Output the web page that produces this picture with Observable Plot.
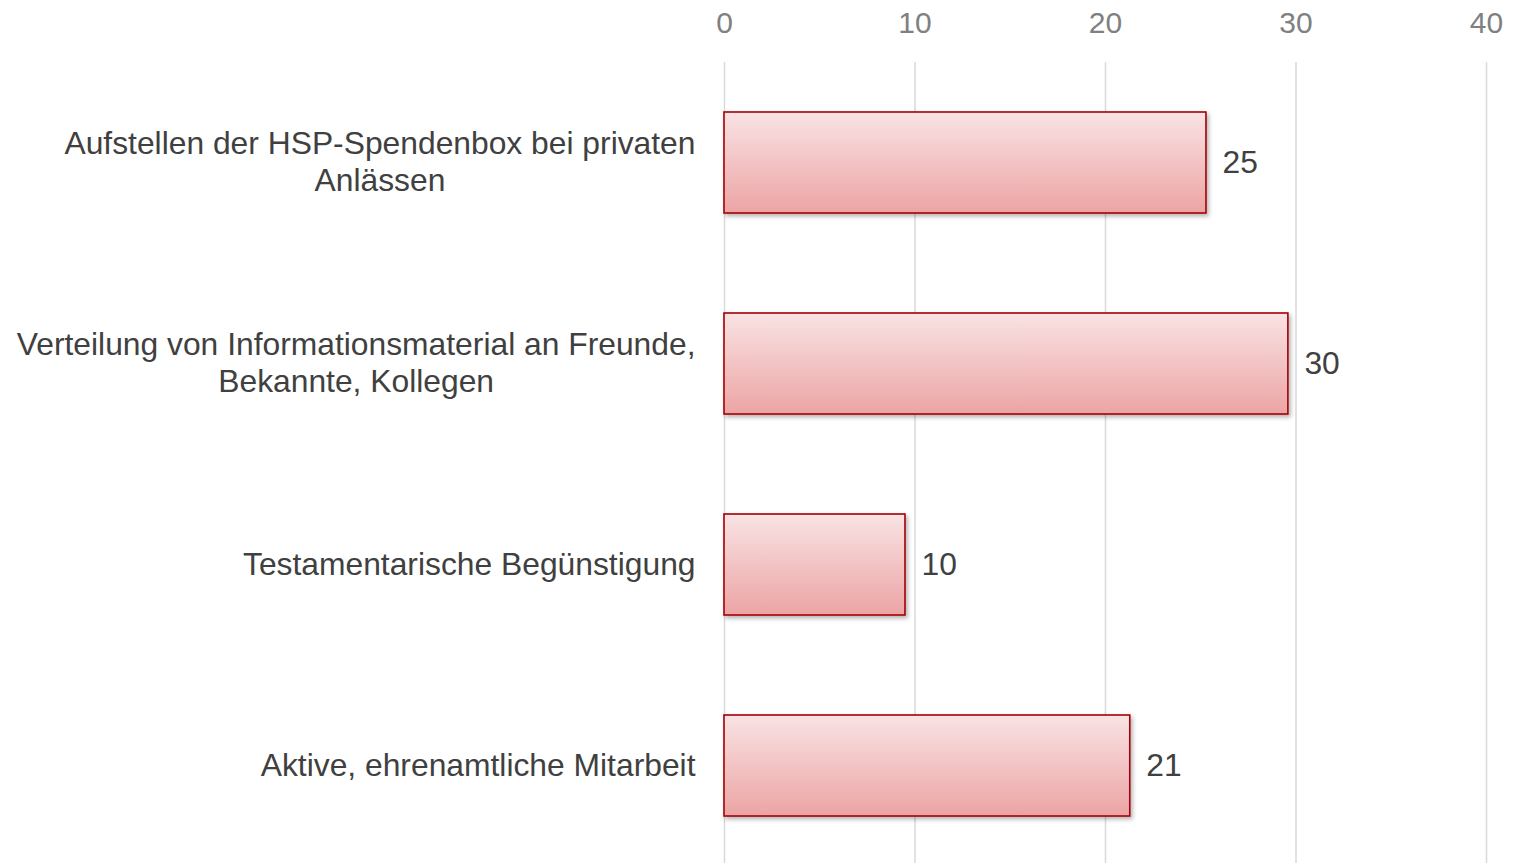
<!DOCTYPE html>
<html>
<head>
<meta charset="utf-8">
<script src="https://cdn.jsdelivr.net/npm/d3@7"></script>
<script src="https://cdn.jsdelivr.net/npm/@observablehq/plot@0.6"></script>
<style>
  html, body { margin: 0; padding: 0; background: #fff; }
  #chart svg { display: block; }
</style>
</head>
<body>
<div id="chart"></div>
<script>
const categories = [
  "Aufstellen der HSP-Spendenbox bei privaten\nAnlässen",
  "Verteilung von Informationsmaterial an Freunde,\nBekannte, Kollegen",
  "Testamentarische Begünstigung",
  "Aktive, ehrenamtliche Mitarbeit"
];
const values = [25.3, 29.6, 9.5, 21.3];
const valueLabels = ["25", "30", "10", "21"];
const xTicks = [0, 10, 20, 30, 40];

const data = categories.map((c, i) => ({category: c, value: values[i], label: valueLabels[i]}));

const defsMark = () => {
  const defs = d3.create("svg:defs");
  const grad = defs.append("linearGradient")
    .attr("id", "barGrad").attr("x1", 0).attr("y1", 0).attr("x2", 0).attr("y2", 1);
  grad.append("stop").attr("offset", "0%").attr("stop-color", "#f9e3e4");
  grad.append("stop").attr("offset", "100%").attr("stop-color", "#eca4a4");
  const f = defs.append("filter").attr("id", "shadow")
    .attr("x", "-5%").attr("y", "-10%").attr("width", "115%").attr("height", "130%");
  f.append("feDropShadow").attr("dx", 2).attr("dy", 2.5).attr("stdDeviation", 2)
    .attr("flood-color", "#000").attr("flood-opacity", 0.3);
  return defs.node();
};

const chart = Plot.plot({
  width: 1520,
  height: 863,
  marginLeft: 724,
  marginRight: 34,
  marginTop: 62,
  marginBottom: 0,
  style: {fontFamily: "'Liberation Sans', Arial, sans-serif", background: "#fff"},
  x: {domain: [0, 40], ticks: xTicks},
  y: {domain: categories, range: [62, 866], paddingInner: 0.5, paddingOuter: 0.25, align: 0.5},
  marks: [
    defsMark,
    Plot.gridX(xTicks, {stroke: "#d9d9d9", strokeOpacity: 1, strokeWidth: 1.5}),
    Plot.axisX(xTicks, {anchor: "top", tickSize: 0, tickPadding: 30, fontSize: 30, fill: "#808080", label: null}),
    Plot.axisY({tickSize: 0, tickPadding: 29, dy: -2, fontSize: 31.8, fill: "#404040", lineHeight: 1.15, label: null, textOverflow: null}),
    Plot.barX(data, {x: "value", y: "category", fill: "url(#barGrad)", stroke: "#a50008", strokeWidth: 1.6}),
    Plot.text(data, {x: "value", y: "category", text: "label", textAnchor: "start", dx: 16, fontSize: 31.8, fill: "#404040"})
  ]
});

document.getElementById("chart").appendChild(chart);

// drop shadow on bars
d3.select(chart).selectAll('g[aria-label="bar"] rect').attr("filter", "url(#shadow)");

// center the lines of multi-line category labels within their block (right-aligned block)
d3.select(chart).selectAll('g[aria-label="y-axis tick label"] text').each(function() {
  const tspans = this.querySelectorAll("tspan");
  if (tspans.length > 1) {
    let maxW = 0;
    tspans.forEach(t => { maxW = Math.max(maxW, t.getComputedTextLength()); });
    this.setAttribute("text-anchor", "middle");
    tspans.forEach(t => t.setAttribute("x", -maxW / 2));
  }
});
</script>
</body>
</html>
